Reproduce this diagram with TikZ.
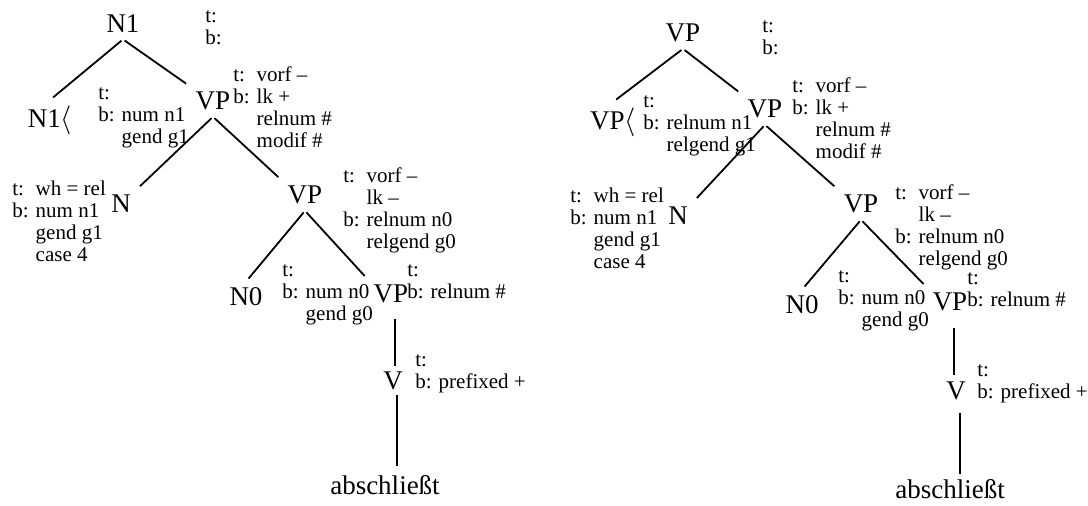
\documentclass[tikz,border=0pt]{standalone}
\usepackage{fontspec}
\setmainfont{Liberation Serif}
\tikzset{
  cat/.style={anchor=base,inner sep=3pt,font=\fontsize{13.5}{15}\selectfont},
  feat/.style={anchor=base west,inner sep=0pt,font=\fontsize{10.5}{11}\selectfont},
  branch/.style={line width=0.9pt,shorten <=1pt,shorten >=2pt}
}
\newcommand{\fstr}[1]{\begin{tabular}[t]{@{}l@{ }l@{}}#1\end{tabular}}
\begin{document}
\begin{tikzpicture}[x=0.5pt,y=-0.5pt]
  \useasboundingbox (0,0) rectangle (1088,506);
  % left tree
  \node[cat] (ln1) at (123,33) {N1};
  \node[cat] (ln1x) at (50,128) {N1$\langle$};
  \node[cat] (lvp) at (213,110) {VP};
  \node[cat] (ln) at (121,213) {N};
  \node[cat] (lvpb) at (305,204) {VP};
  \node[cat] (lno) at (246,306) {N0};
  \node[cat] (lvpc) at (391,303) {VP};
  \node[cat] (lv) at (393,390) {V};
  \node[cat] (lw) at (385,495) {abschließt};
  \node[feat] (lf1) at (205,23) {\fstr{t: & \\ b: &}};
  \node[feat] (lf2) at (98,100) {\fstr{t: & \\ b: & num n1 \\ & gend g1}};
  \node[feat] (lf3) at (233,82) {\fstr{t: & vorf -- \\ b: & lk + \\ & relnum \# \\ & modif \#}};
  \node[feat] (lf4) at (12,196) {\fstr{t: & wh = rel \\ b: & num n1 \\ & gend g1 \\ & case 4}};
  \node[feat] (lf5) at (343,183) {\fstr{t: & vorf -- \\ & lk -- \\ b: & relnum n0 \\ & relgend g0}};
  \node[feat] (lf6) at (282,277) {\fstr{t: & \\ b: & num n0 \\ & gend g0}};
  \node[feat] (lf7) at (407,277) {\fstr{t: & \\ b: & relnum \#}};
  \node[feat] (lf8) at (415,367) {\fstr{t: & \\ b: & prefixed +}};
  % right tree
  \node[cat] (rvp) at (683,42) {VP};
  \node[cat] (rvpx) at (613,130) {VP$\langle$};
  \node[cat] (rvpa) at (765,118) {VP};
  \node[cat] (rn) at (678,225) {N};
  \node[cat] (rvpb) at (861,213) {VP};
  \node[cat] (rno) at (802,314) {N0};
  \node[cat] (rvpc) at (950,311) {VP};
  \node[cat] (rv) at (956,400) {V};
  \node[cat] (rw) at (950,499) {abschließt};
  \node[feat] (rf1) at (762,33) {\fstr{t: & \\ b: &}};
  \node[feat] (rf2) at (643,108) {\fstr{t: & \\ b: & relnum n1 \\ & relgend g1}};
  \node[feat] (rf3) at (792,93) {\fstr{t: & vorf -- \\ b: & lk + \\ & relnum \# \\ & modif \#}};
  \node[feat] (rf4) at (570,203) {\fstr{t: & wh = rel \\ b: & num n1 \\ & gend g1 \\ & case 4}};
  \node[feat] (rf5) at (895,200) {\fstr{t: & vorf -- \\ & lk -- \\ b: & relnum n0 \\ & relgend g0}};
  \node[feat] (rf6) at (838,283) {\fstr{t: & \\ b: & num n0 \\ & gend g0}};
  \node[feat] (rf7) at (967,285) {\fstr{t: & \\ b: & relnum \#}};
  \node[feat] (rf8) at (977,377) {\fstr{t: & \\ b: & prefixed +}};
  % branches
  \foreach \p/\c/\k in {ln1/ln1x/north,ln1/lvp/north west,lvp/ln/north east,lvp/lvpb/north west,
      lvpb/lno/north,lvpb/lvpc/north west,rvp/rvpx/north,rvp/rvpa/north west,
      rvpa/rn/north east,rvpa/rvpb/north west,rvpb/rno/north,rvpb/rvpc/north west}
    \draw[branch] (\p.south) -- (\c.\k);
  \foreach \p/\c/\s/\e in {lvpc/lv/4.5pt/0pt,lv/lw/-1pt/2pt,rvpc/rv/5pt/0.5pt,rv/rw/3pt/0pt}
    \draw[line width=0.8pt,shorten <=\s,shorten >=\e] ([xshift=2pt]\p.south) -- ([xshift=2pt]\p.south|-\c.north);
\end{tikzpicture}
\end{document}
